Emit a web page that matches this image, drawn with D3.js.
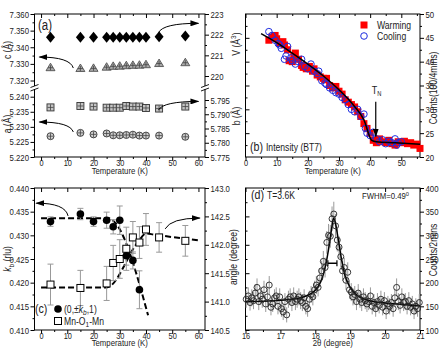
<!DOCTYPE html>
<html>
<head>
<meta charset="utf-8">
<script src="https://cdnjs.cloudflare.com/ajax/libs/d3/7.8.5/d3.min.js"></script>
<style>
body { margin: 0; background: #fff; }
svg text { font-family: "Liberation Sans", Arial, sans-serif; fill: #222; }
</style>
</head>
<body>
<script>
// (a) lattice parameters
var tA = [3.6, 15, 20, 25, 27.5, 30, 32.5, 35, 37.5, 40, 45, 55];
var volA = [221.88, 221.88, 221.87, 221.88, 221.88, 221.88, 221.88, 221.88, 221.88, 221.88, 221.9, 221.93];
var cA = [7.3277, 7.3272, 7.3273, 7.3280, 7.3285, 7.3286, 7.3289, 7.3291, 7.3292, 7.3295, 7.3302, 7.3307];
var bA = [5.7924, 5.7929, 5.7927, 5.7923, 5.7923, 5.7923, 5.7929, 5.7927, 5.7927, 5.7922, 5.7920, 5.7927];
var aA = [5.2269, 5.2280, 5.2275, 5.2278, 5.2272, 5.2272, 5.2273, 5.2274, 5.2271, 5.2271, 5.2271, 5.2267];

// (b) intensity BT7
var warmT = [7.5,8.5,9.5,10,11,12,12.5,13.5,14,15,15.5,16,17,18,18.5,19.5,20.5,21.5,22,23,24,25,25.5,26,27,28,29,30,31,32,33,34,35,36,37,38,39,40,41,42,43,44,45,46,47,48,49,50,51,52,53,54,55,56];
var warmC = [44.5,45.2,45.5,44.8,43.8,44.2,43.5,42.5,40.2,40.0,41.2,41.8,40.5,39.2,38.8,38.5,39.0,38.0,38.5,37.2,36.8,36.5,36.2,36.5,35.0,34.5,34.8,33.8,33.2,32.0,31.5,31.0,30.5,29.5,28.5,27.0,26.0,25.0,23.5,23.0,23.8,23.2,23.0,23.5,22.8,22.5,23.2,23.0,23.3,22.8,23.0,22.5,22.7,21.8];
var coolT = [7.5,8.5,9.5,10.5,11,11.5,12.5,13,13.5,14.5,15,16,17,18,19,20,21,22,23,23.5,24.5,25.5,26,27,28,29,30,31,32,33,34,35,36,37,38,38.5,39,40,41,42,43,44,45,46,47,48,48.5,49,50];
var coolC = [46.3,45.5,44.5,43.8,43.5,42.8,40.5,41.2,43.2,40.8,40.2,39.5,40.0,40.5,39.0,38.5,39.5,38.0,37.5,38.0,36.0,35.5,35.2,34.5,34.0,33.5,33.2,32.5,32.0,31.0,30.0,29.5,30.0,28.5,29.0,26.0,25.0,24.5,25.2,23.8,23.2,23.6,22.8,23.3,23.0,23.8,22.5,23.0,23.2];
var fitT = [5,10,15,20,25,30,35,38,40.5,42,48,56];
var fitC = [45.9,44.0,41.8,39.5,37.0,34.1,30.6,27.8,23.5,23.2,23.0,22.7];
var tN = 41.8;

// (c) kb and Mn-O1-Mn angle
var tK = [3.6, 15, 20, 25, 27.5, 30, 32.5, 35, 37.5];
var kb = [0.4329, 0.4345, 0.4329, 0.4332, 0.4318, 0.4332, 0.4257, 0.4247, 0.4185];
var kbErr = [0.0010, 0.0012, 0.0010, 0.0017, 0.0015, 0.0030, 0.0020, 0.0018, 0.0040];
var tAng = [3.6, 15, 25, 27.5, 30, 32.5, 35, 37.5, 40, 45, 55];
var ang = [141.30, 141.24, 141.32, 141.68, 141.75, 141.93, 142.13, 142.04, 142.27, 142.13, 142.07];
var angErr = [0.36, 0.31, 0.30, 0.31, 0.34, 0.38, 0.28, 0.28, 0.28, 0.26, 0.27];
var kFitT = [0, 26, 27.5, 40.8];
var kFit = [0.4336, 0.4336, 0.4331, 0.4131];
var angFitT = [0, 25, 37, 40, 43, 60];
var angFit = [141.25, 141.25, 142.05, 142.2, 142.18, 142.08];

// (d) peak scan
var dTh = [16.02,16.08,16.13,16.18,16.23,16.28,16.33,16.38,16.43,16.48,16.53,16.58,16.63,16.68,16.73,16.78,16.83,16.88,16.93,16.98,
  17.03,17.08,17.13,17.18,17.23,17.28,17.33,17.38,17.43,17.48,17.53,17.58,17.63,17.68,17.73,17.78,17.83,17.88,17.93,17.98,
  18.03,18.08,18.13,18.18,18.23,18.28,18.33,18.38,18.43,18.48,18.53,18.58,18.63,18.68,18.73,18.78,18.83,18.88,18.93,18.98,
  19.03,19.08,19.13,19.18,19.23,19.28,19.33,19.38,19.43,19.48,19.53,19.58,19.63,19.68,19.73,19.78,19.83,19.88,19.93,19.98,
  20.03,20.08,20.13,20.18,20.23,20.28,20.33,20.38,20.43,20.48,20.53,20.58,20.63,20.68,20.73,20.78,20.83,20.88,20.93,20.98];
var dCnt = [165,172,158,168,162,178,190,160,172,165,185,155,170,195,148,155,168,172,150,170,
  145,138,160,132,165,170,158,172,160,165,170,162,158,168,150,145,165,175,170,185,
  195,190,210,225,245,232,285,300,298,335,345,320,290,275,255,225,232,205,222,185,
  180,170,175,160,178,165,158,170,162,155,160,172,150,158,145,160,152,165,148,162,
  140,155,150,158,145,168,190,160,152,170,158,160,150,162,148,155,140,150,145,158];
var dErr = [18,18,17,18,18,19,19,18,18,18,19,17,18,19,17,17,18,18,17,18,
  17,17,18,16,18,18,18,18,18,18,18,18,18,18,17,17,18,18,18,19,
  19,19,20,21,22,21,24,24,24,26,26,25,24,23,22,21,21,20,21,19,
  19,18,18,18,19,18,18,18,18,17,18,18,17,18,17,18,17,18,17,18,
  17,17,17,18,17,18,19,18,17,18,18,18,17,18,17,17,17,17,17,18];
var dFitT = [16.0,16.5,17.0,17.5,17.8,18.0,18.1,18.2,18.3,18.4,18.47,18.52,18.57,18.65,18.75,18.85,19.0,19.2,19.5,20.0,20.5,21.0];
var dFit = [160,161,163,167,174,184,194,210,238,280,315,336,328,295,250,215,190,173,163,157,154,151];

var tTicks = [0, 10, 20, 30, 40, 50, 60];
var tMinor = [5, 15, 25, 35, 45, 55];

var svg = d3.select("body").append("svg").attr("width", 443).attr("height", 348);

var defs = svg.append("defs");
defs.append("marker").attr("id", "arr").attr("markerUnits", "userSpaceOnUse")
  .attr("markerWidth", 9).attr("markerHeight", 6).attr("refX", 8).attr("refY", 3).attr("orient", "auto")
  .append("path").attr("d", "M0,0L9,3L0,6z").attr("fill", "#000");

// scales
var xA = d3.scaleLinear().domain([-2.5, 62.5]).range([34.5, 205]);
var cS = d3.scaleLinear().domain([7.32, 7.36]).range([80.5, 14]);
var aS = d3.scaleLinear().domain([5.22, 5.24]).range([157, 96.7]);
var vS = d3.scaleLinear().domain([220, 223]).range([76, 14]);
var bS = d3.scaleLinear().domain([5.775, 5.795]).range([157, 100]);
var xB = d3.scaleLinear().domain([0, 56]).range([245.5, 420]);
var yB = d3.scaleLinear().domain([20, 50]).range([157, 14]);
var kS = d3.scaleLinear().domain([0.410, 0.440]).range([330, 188]);
var angS = d3.scaleLinear().domain([140.5, 143.0]).range([330, 188]);
var xD = d3.scaleLinear().domain([16, 21]).range([245.5, 420]);
var yD = d3.scaleLinear().domain([100, 400]).range([330, 188]);

function axis(gen, scale, tx, ty, major, minor, fmt, len, pad, fs) {
  var g = svg.append("g").attr("transform", "translate(" + tx + "," + ty + ")");
  g.append("g").call(gen(scale).tickValues(major).tickFormat(fmt).tickSizeOuter(0).tickSize(len).tickPadding(pad == null ? 1.5 : pad));
  if (minor) g.append("g").call(gen(scale).tickValues(minor).tickFormat("").tickSizeOuter(0).tickSize(len / 2));
  g.selectAll(".domain").remove();
  g.selectAll("line").attr("stroke", "#000");
  g.selectAll("text").attr("font-size", fs || "9.5px").attr("fill", "#222");
  return g;
}
function frame(x0, x1, y0, y1) {
  svg.append("rect").attr("x", x0).attr("y", y0).attr("width", x1 - x0).attr("height", y1 - y0)
    .attr("fill", "none").attr("stroke", "#000").attr("stroke-width", 1);
}
function brk(x, y) {
  svg.append("rect").attr("x", x - 5).attr("y", y - 2).attr("width", 10).attr("height", 3).attr("fill", "#fff");
  [-2, 1.5].forEach(function(o) {
    svg.append("line").attr("x1", x - 4).attr("y1", y + o + 1.5).attr("x2", x + 4).attr("y2", y + o - 1.5)
      .attr("stroke", "#000").attr("stroke-width", 0.9);
  });
}
function arrow(pts) {
  svg.append("path").attr("d", "M" + pts[0] + "Q" + pts[1] + " " + pts[2])
    .attr("fill", "none").attr("stroke", "#000").attr("stroke-width", 1).attr("marker-end", "url(#arr)");
}
function vlabel(x, y, parts) {
  var t = svg.append("text").attr("transform", "translate(" + x + "," + y + ") rotate(-90)")
    .attr("text-anchor", "middle").attr("font-size", "10.5px");
  parts.forEach(function(p) {
    var s = t.append("tspan").text(p[0]);
    if (p[1] == "i") s.attr("font-style", "italic");
    if (p[1] == "sub") s.attr("font-size", "8px").attr("dy", 2.5);
    if (p[1] == "sup") s.attr("font-size", "8px").attr("dy", -4);
    if (p[2]) s.attr("dy", p[2]);
  });
  return t;
}

// ---------- panel (a)
var f3 = d3.format(".3f");
axis(d3.axisBottom, xA, 0, 157, tTicks, tMinor, d3.format("d"), 4, -1.5, "9px");
axis(d3.axisTop, xA, 0, 14, tTicks, tMinor, "", -4);
axis(d3.axisLeft, cS, 34.5, 0, [7.32, 7.33, 7.34, 7.35, 7.36], [7.325, 7.335, 7.345, 7.355], f3, 4);
axis(d3.axisLeft, aS, 34.5, 0, [5.22, 5.225, 5.23, 5.235, 5.24], [5.2225, 5.2275, 5.2325, 5.2375], f3, 4);
axis(d3.axisRight, vS, 205, 0, [220, 221, 222, 223], [220.5, 221.5, 222.5], d3.format("d"), 4);
axis(d3.axisRight, bS, 205, 0, [5.775, 5.78, 5.785, 5.79, 5.795], [5.7775, 5.7825, 5.7875, 5.7925], f3, 4);
frame(34.5, 205, 14, 157);
brk(34.5, 88);
brk(205, 88);

function cross(g, x, y, r) {
  g.append("line").attr("x1", x - r).attr("x2", x + r).attr("y1", y).attr("y2", y).attr("stroke", "#444").attr("stroke-width", 0.8);
  g.append("line").attr("x1", x).attr("x2", x).attr("y1", y - r).attr("y2", y + r).attr("stroke", "#444").attr("stroke-width", 0.8);
}
var ga = svg.append("g");
tA.forEach(function(t, i) {
  var x = xA(t), y;
  y = vS(volA[i]);
  ga.append("path").attr("d", "M" + x + "," + (y - 5.5) + "L" + (x + 4.5) + "," + y + "L" + x + "," + (y + 5.5) + "L" + (x - 4.5) + "," + y + "Z")
    .attr("fill", "#000");
  y = cS(cA[i]);
  ga.append("path").attr("d", "M" + x + "," + (y - 4.5) + "L" + (x + 4.5) + "," + (y + 3) + "L" + (x - 4.5) + "," + (y + 3) + "Z")
    .attr("fill", "#a8a8a8").attr("stroke", "#444").attr("stroke-width", 0.8);
  cross(ga, x, y, 2.5);
  y = bS(bA[i]);
  ga.append("rect").attr("x", x - 3.5).attr("y", y - 3.5).attr("width", 7).attr("height", 7)
    .attr("fill", "#c4c4c4").attr("stroke", "#333").attr("stroke-width", 0.9);
  cross(ga, x, y, 3);
  y = aS(aA[i]);
  ga.append("circle").attr("cx", x).attr("cy", y).attr("r", 3.5)
    .attr("fill", "#d0d0d0").attr("stroke", "#333").attr("stroke-width", 0.9);
  cross(ga, x, y, 3);
});
arrow([[xA(12.3), cS(7.3275)], [xA(11), cS(7.3341)], [xA(-0.6), cS(7.3341)]]);
arrow([[xA(44.8), vS(222.1)], [xA(46.5), vS(222.55)], [xA(60), vS(222.55)]]);
arrow([[xA(12.3), aS(5.2283)], [xA(11), aS(5.2316)], [xA(-0.6), aS(5.2316)]]);
arrow([[xA(44.8), bS(5.7915)], [xA(46.5), bS(5.7945)], [xA(60), bS(5.7945)]]);
svg.append("text").attr("x", 38).attr("y", 30).attr("font-size", "14px").text("(a)");
svg.append("text").attr("x", xA(30)).attr("y", 174.5).attr("text-anchor", "middle").attr("font-size", "9.5px").text("Temperature (K)");
vlabel(11, 50, [["c (Å)"]]);
vlabel(11, 124, [["a (Å)"]]);
vlabel(240, 44, [["V (Å"], ["3", "sup"], [")", null, 4]]);
vlabel(240, 116, [["b (Å)"]]);

// ---------- panel (b)
axis(d3.axisBottom, xB, 0, 157, [0, 10, 20, 30, 40, 50], [5, 15, 25, 35, 45, 55], d3.format("d"), 4, -1.5, "9px");
axis(d3.axisTop, xB, 0, 14, [0, 10, 20, 30, 40, 50], [5, 15, 25, 35, 45, 55], "", -4);
axis(d3.axisRight, yB, 420, 0, [20, 25, 30, 35, 40, 45, 50], [22.5, 27.5, 32.5, 37.5, 42.5, 47.5], d3.format("d"), 4);
axis(d3.axisLeft, yB, 245.5, 0, [25, 30, 35, 40, 45], [22.5, 27.5, 32.5, 37.5, 42.5, 47.5], "", -4);
frame(245.5, 420, 14, 157);

var gb = svg.append("g");
gb.selectAll("rect").data(warmT).enter().append("rect")
  .attr("x", function(d) { return xB(d) - 3.5; })
  .attr("y", function(d, i) { return yB(warmC[i]) - 3.5; })
  .attr("width", 7).attr("height", 7).attr("fill", "#f00");
gb.selectAll("circle").data(coolT).enter().append("circle")
  .attr("cx", function(d) { return xB(d); })
  .attr("cy", function(d, i) { return yB(coolC[i]); })
  .attr("r", 3.3).attr("fill", "none").attr("stroke", "#1f2ee0").attr("stroke-width", 1);
gb.append("path").datum(fitT)
  .attr("d", d3.line().x(function(d) { return xB(d); }).y(function(d, i) { return yB(fitC[i]); }).curve(d3.curveMonotoneX))
  .attr("fill", "none").attr("stroke", "#000").attr("stroke-width", 1.5);
svg.append("line").attr("x1", xB(tN)).attr("x2", xB(tN)).attr("y1", yB(31.6)).attr("y2", yB(24.3))
  .attr("stroke", "#000").attr("stroke-width", 1.2).attr("marker-end", "url(#arr)");
var tn = svg.append("text").attr("x", xB(tN) - 4).attr("y", yB(33.3)).attr("font-size", "11px");
tn.append("tspan").text("T");
tn.append("tspan").attr("font-size", "7px").attr("dy", 2).text("N");
svg.append("rect").attr("x", 360.5).attr("y", 21.5).attr("width", 7).attr("height", 7).attr("fill", "#f00");
svg.append("text").attr("x", 377).attr("y", 29).attr("font-size", "10.5px").text("Warming");
svg.append("circle").attr("cx", 364).attr("cy", 36).attr("r", 3.3).attr("fill", "none").attr("stroke", "#1f2ee0");
svg.append("text").attr("x", 377).attr("y", 40).attr("font-size", "10.5px").text("Cooling");
var lb = svg.append("text").attr("x", 250).attr("y", 151);
lb.append("tspan").attr("font-size", "13px").text("(b) ");
lb.append("tspan").attr("font-size", "10.5px").text("Intensity (BT7)");
svg.append("text").attr("x", xB(28)).attr("y", 174.5).attr("text-anchor", "middle").attr("font-size", "9.5px").text("Temperature (K)");
vlabel(437, 88, [["Counts(100/4mins)"]]);

// ---------- panel (c)
axis(d3.axisBottom, xA, 0, 330, tTicks, tMinor, d3.format("d"), 4, -1.5, "9px");
axis(d3.axisTop, xA, 0, 188, tTicks, tMinor, "", -4);
axis(d3.axisLeft, kS, 34.5, 0, [0.41, 0.415, 0.42, 0.425, 0.43, 0.435, 0.44], [0.4125, 0.4175, 0.4225, 0.4275, 0.4325, 0.4375], f3, 4);
axis(d3.axisRight, angS, 205, 0, [140.5, 141, 141.5, 142, 142.5, 143], [140.75, 141.25, 141.75, 142.25, 142.75], d3.format(".1f"), 4);
frame(34.5, 205, 188, 330);

var gc = svg.append("g");
gc.append("path").datum(kFitT)
  .attr("d", d3.line().x(function(d) { return xA(d); }).y(function(d, i) { return kS(kFit[i]); }).curve(d3.curveMonotoneX))
  .attr("fill", "none").attr("stroke", "#000").attr("stroke-width", 2).attr("stroke-dasharray", "6,3");
gc.append("path").datum(angFitT)
  .attr("d", d3.line().x(function(d) { return xA(d); }).y(function(d, i) { return angS(angFit[i]); }).curve(d3.curveMonotoneX))
  .attr("fill", "none").attr("stroke", "#000").attr("stroke-width", 2).attr("stroke-dasharray", "6,3");
function ebar(g, x, y0, y1) {
  g.append("line").attr("x1", x).attr("x2", x).attr("y1", y0).attr("y2", y1).attr("stroke", "#999");
  g.append("line").attr("x1", x - 3).attr("x2", x + 3).attr("y1", y0).attr("y2", y0).attr("stroke", "#999");
  g.append("line").attr("x1", x - 3).attr("x2", x + 3).attr("y1", y1).attr("y2", y1).attr("stroke", "#999");
}
tAng.forEach(function(t, i) { ebar(gc, xA(t), angS(ang[i] - angErr[i]), angS(ang[i] + angErr[i])); });
tK.forEach(function(t, i) { ebar(gc, xA(t), kS(kb[i] - kbErr[i]), kS(kb[i] + kbErr[i])); });
gc.selectAll("rect.sq").data(tAng).enter().append("rect")
  .attr("x", function(d) { return xA(d) - 3.5; })
  .attr("y", function(d, i) { return angS(ang[i]) - 3.5; })
  .attr("width", 7).attr("height", 7).attr("fill", "#fff").attr("stroke", "#000");
gc.selectAll("circle").data(tK).enter().append("circle")
  .attr("cx", function(d) { return xA(d); })
  .attr("cy", function(d, i) { return kS(kb[i]); })
  .attr("r", 3.8).attr("fill", "#000");
arrow([[xA(10.3), kS(0.4341)], [xA(9.2), kS(0.4368)], [xA(-1.8), kS(0.4368)]]);
arrow([[xA(47.3), angS(142.28)], [xA(49.5), angS(142.47)], [xA(60.5), angS(142.47)]]);
svg.append("text").attr("x", 35).attr("y", 313).attr("font-size", "13px").text("(c)");
svg.append("circle").attr("cx", 58).attr("cy", 309).attr("r", 3.8).attr("fill", "#000");
var l1 = svg.append("text").attr("x", 64).attr("y", 313).attr("font-size", "10.5px");
l1.append("tspan").text("(0,±");
l1.append("tspan").attr("font-style", "italic").text("k");
l1.append("tspan").attr("font-size", "8px").attr("font-style", "italic").attr("dy", 2.5).text("b");
l1.append("tspan").attr("dy", -2.5).text(",1)");
svg.append("rect").attr("x", 54.5).attr("y", 317.5).attr("width", 7).attr("height", 7).attr("fill", "#fff").attr("stroke", "#000");
var l2 = svg.append("text").attr("x", 64).attr("y", 325).attr("font-size", "10.5px");
l2.append("tspan").text("Mn-O");
l2.append("tspan").attr("font-size", "8px").attr("dy", 2.5).text("1");
l2.append("tspan").attr("dy", -2.5).text("-Mn");
svg.append("text").attr("x", xA(30)).attr("y", 346).attr("text-anchor", "middle").attr("font-size", "9.5px").text("Temperature (K)");
vlabel(11, 259, [["k", "i"], ["b", "sub"], [" (rlu)", null, -2.5]]);
vlabel(237, 257, [["angle (degree)"]]);

// ---------- panel (d)
axis(d3.axisBottom, xD, 0, 330, [16, 17, 18, 19, 20, 21], [16.5, 17.5, 18.5, 19.5, 20.5], d3.format("d"), 4, -1.5, "9px");
axis(d3.axisTop, xD, 0, 188, [16, 17, 18, 19, 20, 21], [16.5, 17.5, 18.5, 19.5, 20.5], "", -4);
axis(d3.axisRight, yD, 420, 0, [100, 150, 200, 250, 300, 350, 400], [125, 175, 225, 275, 325, 375], d3.format("d"), 4);
axis(d3.axisLeft, angS, 245.5, 0, [140.5, 141, 141.5, 142, 142.5], [140.75, 141.25, 141.75, 142.25, 142.75], "", -4);
frame(245.5, 420, 188, 330);

var gd = svg.append("g");
dTh.forEach(function(t, i) {
  gd.append("line").attr("x1", xD(t)).attr("x2", xD(t))
    .attr("y1", yD(dCnt[i] - dErr[i])).attr("y2", yD(dCnt[i] + dErr[i]))
    .attr("stroke", "#999").attr("stroke-width", 1);
});
gd.append("path").datum(dFitT)
  .attr("d", d3.line().x(function(d) { return xD(d); }).y(function(d, i) { return yD(dFit[i]); }).curve(d3.curveMonotoneX))
  .attr("fill", "none").attr("stroke", "#000").attr("stroke-width", 1.5);
gd.selectAll("circle").data(dTh).enter().append("circle")
  .attr("cx", function(d) { return xD(d); })
  .attr("cy", function(d, i) { return yD(dCnt[i]); })
  .attr("r", 3).attr("fill", "none").attr("stroke", "#222").attr("stroke-width", 0.9);
var fy = yD(241);
svg.append("line").attr("x1", xD(18.36)).attr("x2", xD(18.62)).attr("y1", fy).attr("y2", fy).attr("stroke", "#000").attr("stroke-width", 1.5);
svg.append("line").attr("x1", xD(18.36)).attr("x2", xD(18.36)).attr("y1", fy - 3).attr("y2", fy + 3).attr("stroke", "#000").attr("stroke-width", 1.2);
svg.append("line").attr("x1", xD(18.62)).attr("x2", xD(18.62)).attr("y1", fy - 3).attr("y2", fy + 3).attr("stroke", "#000").attr("stroke-width", 1.2);
var ld = svg.append("text").attr("x", 251).attr("y", 199);
ld.append("tspan").attr("font-size", "13px").text("(d) ");
ld.append("tspan").attr("font-size", "10.5px").text("T=3.6K");
var fw = svg.append("text").attr("x", 362).attr("y", 199).attr("font-size", "9.5px");
fw.append("tspan").text("FWHM=0.49");
fw.append("tspan").attr("font-size", "7px").attr("dy", -3).text("o");
svg.append("text").attr("x", xD(18.5)).attr("y", 346).attr("text-anchor", "middle").attr("font-size", "9.5px").text("2θ (degree)");
vlabel(437, 250, [["Counts/2mins"]]);

// the original lettering is condensed: squeeze every label horizontally about its anchor
svg.selectAll("text").each(function() {
  var t = d3.select(this), tr = t.attr("transform");
  if (tr) { t.attr("transform", tr + " scale(0.82,1)"); return; }
  var x = +t.attr("x") || 0, y = +t.attr("y") || 0;
  t.attr("transform", "translate(" + x + "," + y + ") scale(0.82,1) translate(" + (-x) + "," + (-y) + ")");
});
</script>
</body>
</html>
